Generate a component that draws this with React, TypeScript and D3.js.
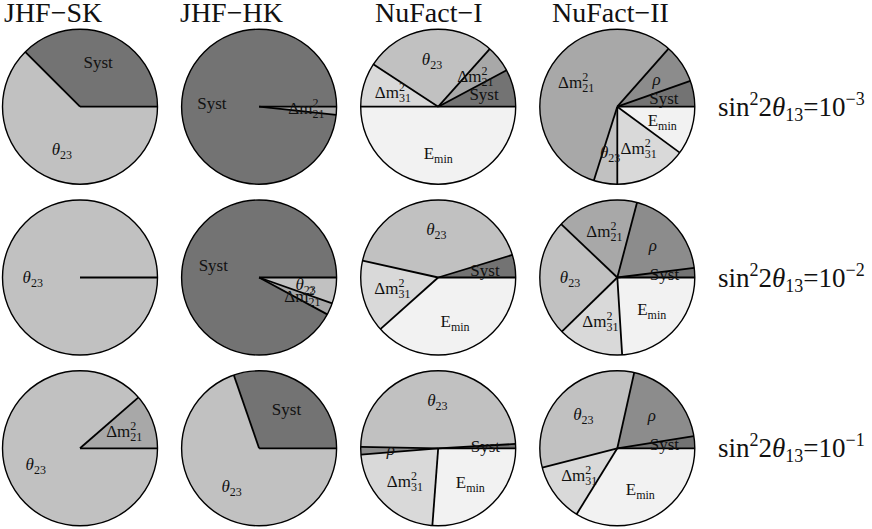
import React from "react";
import * as d3 from "d3";

const W = 872;
const H = 529;

const columns = ["JHF−SK", "JHF−HK", "NuFact−I", "NuFact−II"];
const rowExponents = ["−3", "−2", "−1"];

// slices listed counter-clockwise starting at 3 o'clock; values in percent
const sk1: [string, number][] = [["Syst", 37.5], ["theta23", 62.5]];
const hk1: [string, number][] = [["Syst", 98.3], ["dm21", 1.7]];
const nf1_1: [string, number][] = [["Syst", 7.8], ["dm21", 5.6], ["theta23", 27.4], ["dm31", 9.2], ["Emin", 50]];
const nf2_1: [string, number][] = [["Syst", 5.4], ["rho", 8.1], ["dm21", 56.6], ["theta23", 4.9], ["dm31", 14.9], ["Emin", 10.1]];

const sk2: [string, number][] = [["theta23", 100]];
const hk2: [string, number][] = [["Syst", 92.1], ["dm21", 2.5], ["theta23", 5.4]];
const nf1_2: [string, number][] = [["Syst", 4.7], ["theta23", 41.8], ["dm31", 15.1], ["Emin", 38.4]];
const nf2_2: [string, number][] = [["Syst", 2.0], ["rho", 18.9], ["dm21", 17.0], ["theta23", 24.4], ["dm31", 13.7], ["Emin", 24.0]];

const sk3: [string, number][] = [["dm21", 11.4], ["theta23", 88.6]];
const hk3: [string, number][] = [["Syst", 30.3], ["theta23", 69.7]];
const nf1_3: [string, number][] = [["Syst", 0.9], ["theta23", 48.8], ["rho", 1.6], ["dm31", 22.5], ["Emin", 26.2]];
const nf2_3: [string, number][] = [["Syst", 2.5], ["rho", 19.0], ["theta23", 32.5], ["dm31", 12.2], ["Emin", 33.8]];

const grid = [
  [sk1, hk1, nf1_1, nf2_1],
  [sk2, hk2, nf1_2, nf2_2],
  [sk3, hk3, nf1_3, nf2_3],
];

const fills: Record<string, string> = {
  Syst: "#737373",
  rho: "#8c8c8c",
  dm21: "#a8a8a8",
  theta23: "#c1c1c1",
  dm31: "#d9d9d9",
  Emin: "#f2f2f2",
};

const FONT = "'Liberation Serif', 'Times New Roman', serif";
const R = 77.5;

function SliceLabel({ k, x, y }: { k: string; x: number; y: number }) {
  const fs = 17;
  const ss = 12;
  const common = { x, y: y + 5, textAnchor: "middle" as const, fontSize: fs, fontFamily: FONT, fill: "#111" };
  if (k === "Syst") return <text {...common}>Syst</text>;
  if (k === "rho")
    return (
      <text {...common}>
        <tspan fontStyle="italic">ρ</tspan>
      </text>
    );
  if (k === "theta23")
    return (
      <text {...common}>
        <tspan fontStyle="italic">θ</tspan>
        <tspan fontSize={ss} dy={4}>23</tspan>
      </text>
    );
  if (k === "Emin")
    return (
      <text {...common}>
        E<tspan fontSize={ss} dy={4}>min</tspan>
      </text>
    );
  const sub = k === "dm21" ? "21" : "31";
  return (
    <text {...common}>
      Δm
      <tspan fontSize={ss} dy={-7}>2</tspan>
      <tspan fontSize={ss} dx={-6} dy={11}>{sub}</tspan>
    </text>
  );
}

function Pie({ data, cx, cy }: { data: [string, number][]; cx: number; cy: number }) {
  const pie = d3
    .pie<[string, number]>()
    .sort(null)
    .value((d) => d[1])
    .startAngle(Math.PI / 2)
    .endAngle(Math.PI / 2 - 2 * Math.PI);
  const arcs = pie(data);
  const arc = d3.arc<d3.PieArcDatum<[string, number]>>().innerRadius(0).outerRadius(R);
  const labelArc = d3.arc<d3.PieArcDatum<[string, number]>>().innerRadius(R * 0.61).outerRadius(R * 0.61);
  return (
    <g transform={`translate(${cx},${cy})`}>
      {arcs.map((a, i) => (
        <path key={i} d={arc(a) || ""} fill={fills[a.data[0]]} stroke="none" />
      ))}
      {arcs.map((a, i) => (
        <line
          key={"l" + i}
          x1={0}
          y1={0}
          x2={R * Math.sin(a.startAngle)}
          y2={-R * Math.cos(a.startAngle)}
          stroke="#000"
          strokeWidth={1.8}
        />
      ))}
      <circle r={R} fill="none" stroke="#000" strokeWidth={1.4} />
      {arcs.map((a, i) => {
        const [lx, ly] = labelArc.centroid(a);
        return <SliceLabel key={"t" + i} k={a.data[0]} x={lx} y={ly} />;
      })}
    </g>
  );
}

export default function App() {
  const xs = d3.scalePoint<string>().domain(columns).range([80, 617.3]);
  const ys = d3.scalePoint<string>().domain(rowExponents).range([106.7, 448.3]);
  const titleX = [4, 180, 375, 552];
  return (
    <svg
      width={W}
      height={H}
      style={{ position: "absolute", left: 0, top: 0, background: "#fff" }}
      fontFamily={FONT}
    >
      <rect width={W} height={H} fill="#fff" />
      {columns.map((c, i) => (
        <text key={c} x={titleX[i]} y={22} fontSize={28} fill="#111">
          {c}
        </text>
      ))}
      {rowExponents.map((e, r) =>
        columns.map((c, ci) => (
          <Pie key={e + c} data={grid[r][ci]} cx={xs(c) as number} cy={ys(e) as number} />
        ))
      )}
      {rowExponents.map((e) => (
        <text key={"s" + e} x={718} y={(ys(e) as number) + 9} fontSize={27} fill="#111">
          sin
          <tspan fontSize={18} dy={-11}>2</tspan>
          <tspan dy={11}>2</tspan>
          <tspan fontStyle="italic">θ</tspan>
          <tspan fontSize={18} dy={5}>13</tspan>
          <tspan dy={-5}>=10</tspan>
          <tspan fontSize={18} dy={-11}>{e}</tspan>
        </text>
      ))}
    </svg>
  );
}
